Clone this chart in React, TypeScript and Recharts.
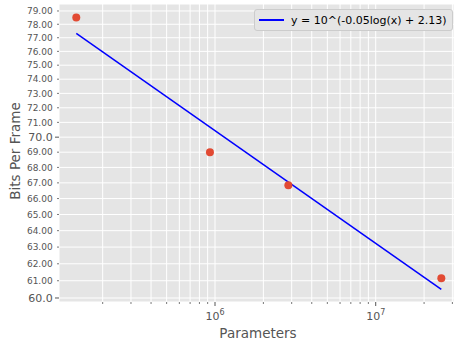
import { ScatterChart, Scatter, XAxis, YAxis, CartesianGrid } from "recharts";

// measured values (model size vs. bits per frame)
const params = [137000, 930000, 2860000, 25600000];
const bitsPerFrame = [78.5, 69.0, 66.85, 61.15];

// fitted power law, read at the first and last model size
const fitParams = [137000, 25600000];
const fitBits = [77.33, 60.5];

const xTicks = [
  2e5, 3e5, 4e5, 5e5, 6e5, 7e5, 8e5, 9e5, 1e6,
  2e6, 3e6, 4e6, 5e6, 6e6, 7e6, 8e6, 9e6, 1e7, 2e7, 3e7,
];
const xMajor = [1e6, 1e7];
const yTicks = [60, 61, 62, 63, 64, 65, 66, 67, 68, 69, 70, 71, 72, 73, 74, 75, 76, 77, 78, 79];
const yMajor = [60, 70];
const legendLabel = "y = 10^(-0.05log(x) + 2.13)";

const points = params.map((p, i) => ({ params: p, bits: bitsPerFrame[i] }));
const fit = fitParams.map((p, i) => ({ params: p, bits: fitBits[i] }));

const FONT = "'DejaVu Sans', sans-serif";
const GREY = "#555555";

function XTick({ x, y, payload }: any) {
  const major = xMajor.includes(payload.value);
  const exp = Math.round(Math.log10(payload.value));
  return (
    <g>
      <line x1={x} x2={x} y1={y} y2={y + (major ? 4 : 2)} stroke={GREY} strokeWidth={major ? 1 : 0.8} />
      {major && (
        <text x={x} y={y + 18} textAnchor="middle" fontSize={11} fill={GREY} fontFamily={FONT}>
          <tspan>10</tspan>
          <tspan dy={-5} fontSize={8}>
            {exp}
          </tspan>
        </text>
      )}
    </g>
  );
}

function YTick({ x, y, payload }: any) {
  const major = yMajor.includes(payload.value);
  return (
    <g>
      <line x1={x - (major ? 4 : 2)} x2={x} y1={y} y2={y} stroke={GREY} strokeWidth={major ? 1 : 0.8} />
      <text
        x={x - 6.3}
        y={y}
        dy="0.36em"
        textAnchor="end"
        fontSize={major ? 11 : 9}
        fill={GREY}
        fontFamily={FONT}
      >
        {major ? payload.value.toFixed(1) : payload.value.toFixed(2)}
      </text>
    </g>
  );
}

const Dot = (props: any) => <circle cx={props.cx} cy={props.cy} r={4} fill="#E24A33" />;

export default function App() {
  return (
    <div style={{ position: "absolute", left: 0, top: 0, width: 455, height: 340, background: "white", fontFamily: FONT }}>
      <ScatterChart width={455} height={340} margin={{ top: 4, right: 1, bottom: 0, left: 0 }}>
        <CartesianGrid stroke="#ffffff" strokeWidth={1} fill="#E5E5E5" fillOpacity={1} />
        <XAxis
          dataKey="params"
          type="number"
          scale="log"
          domain={[106960, 30700000]}
          allowDataOverflow
          ticks={xTicks}
          interval={0}
          tick={<XTick />}
          tickLine={false}
          axisLine={false}
          tickSize={0}
          tickMargin={0}
          height={38}
          label={{
            content: () => (
              <text x={258} y={338} textAnchor="middle" fontSize={13.5} fill={GREY} fontFamily={FONT}>
                Parameters
              </text>
            ),
          }}
        />
        <YAxis
          dataKey="bits"
          type="number"
          scale="log"
          domain={[59.77, 79.53]}
          allowDataOverflow
          ticks={yTicks}
          interval={0}
          tick={<YTick />}
          tickLine={false}
          axisLine={false}
          tickSize={0}
          tickMargin={0}
          width={59}
          label={{
            content: () => (
              <text
                transform="translate(20, 151) rotate(-90)"
                textAnchor="middle"
                fontSize={13.5}
                fill={GREY}
                fontFamily={FONT}
              >
                Bits Per Frame
              </text>
            ),
          }}
        />
        <Scatter
          data={fit}
          dataKey="bits"
          line={{ stroke: "#0000ff", strokeWidth: 1.5 }}
          shape={() => <g />}
          isAnimationActive={false}
        />
        <Scatter data={points} dataKey="bits" shape={Dot} isAnimationActive={false} />
      </ScatterChart>
      <div
        style={{
          position: "absolute",
          left: 254,
          top: 9,
          width: 199,
          height: 22,
          boxSizing: "border-box",
          border: "1px solid #cccccc",
          borderRadius: 3,
          background: "#E5E5E5",
          display: "flex",
          alignItems: "center",
          fontSize: 11,
          color: "#000",
        }}
      >
        <div style={{ width: 25, height: 1.5, background: "#0000ff", marginLeft: 4, marginRight: 7 }} />
        <span style={{ whiteSpace: "nowrap" }}>{legendLabel}</span>
      </div>
    </div>
  );
}
